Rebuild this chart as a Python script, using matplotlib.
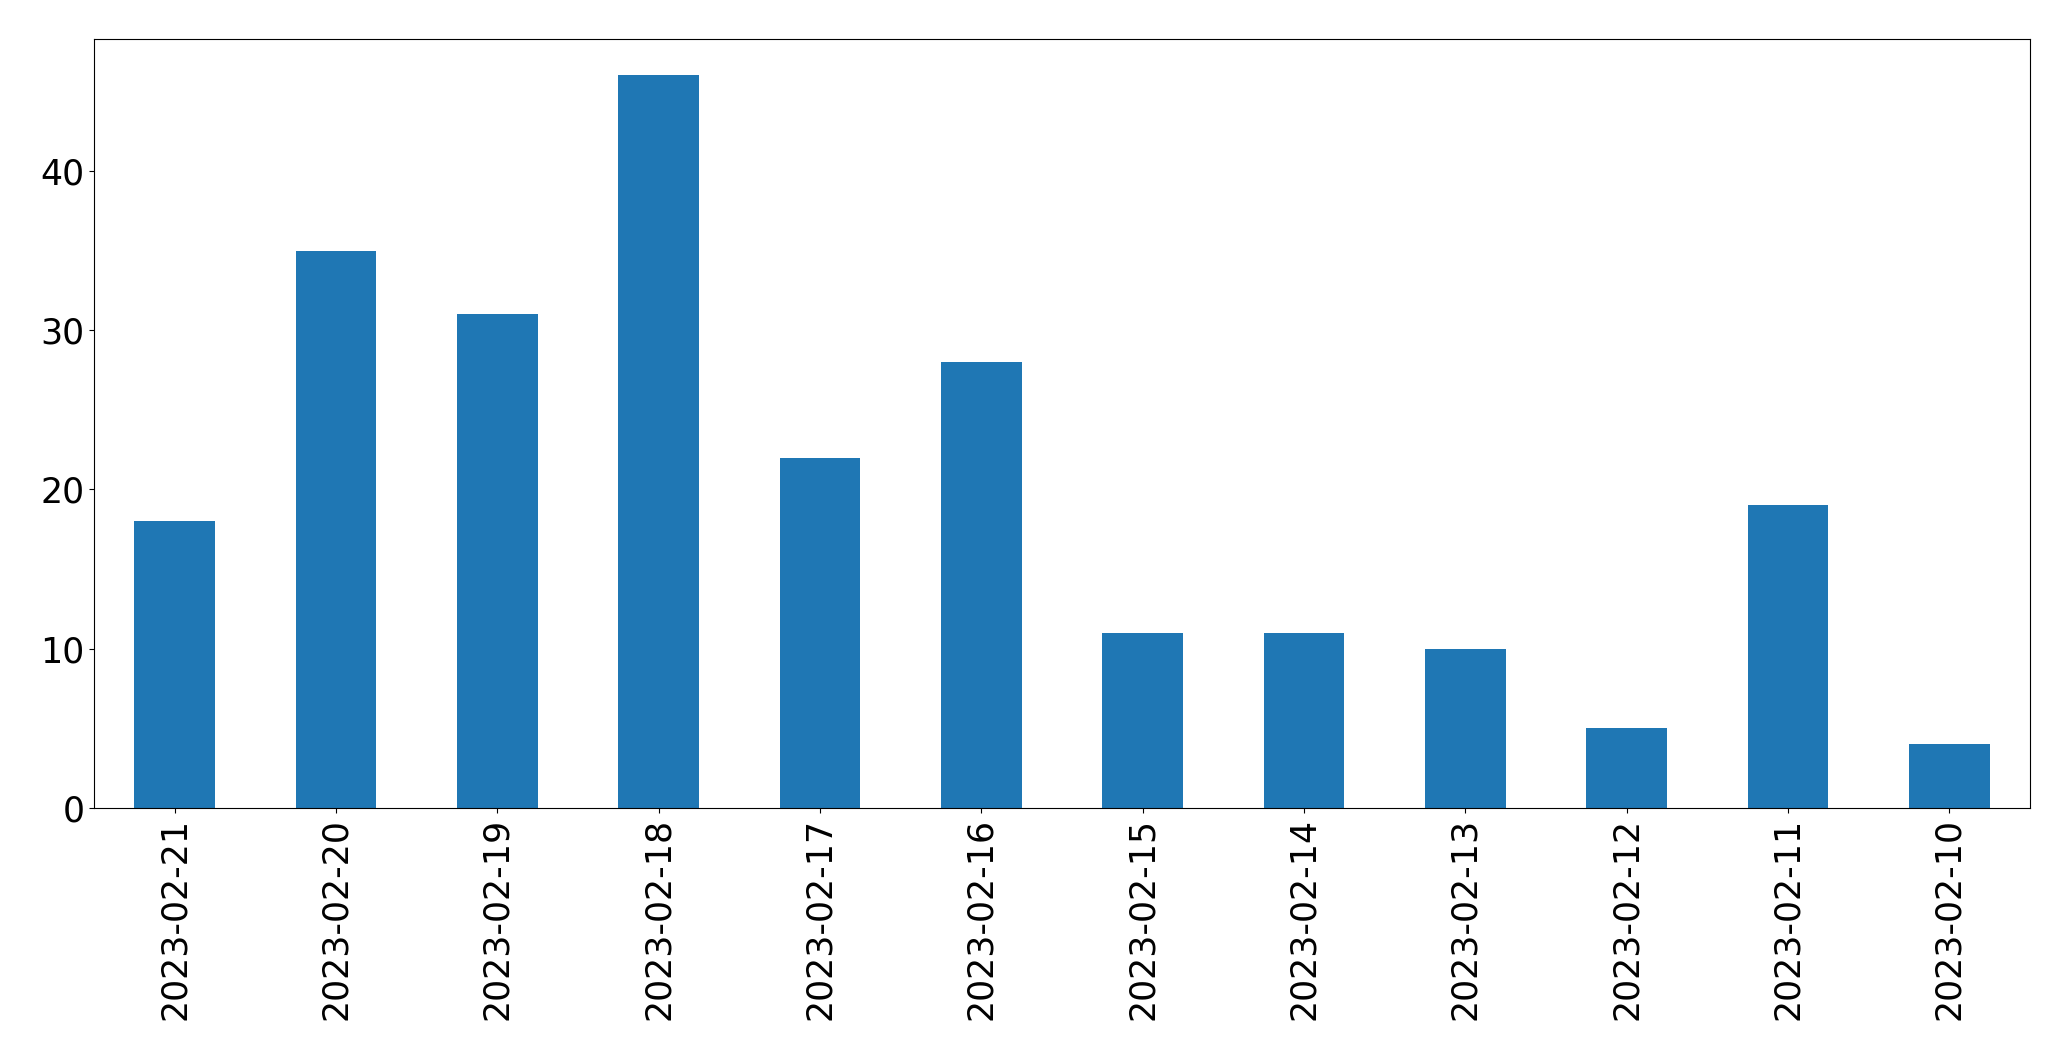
import matplotlib
matplotlib.use("Agg")
import matplotlib.pyplot as plt
import pandas as pd

dates = ["2023-02-21", "2023-02-20", "2023-02-19", "2023-02-18", "2023-02-17",
         "2023-02-16", "2023-02-15", "2023-02-14", "2023-02-13", "2023-02-12",
         "2023-02-11", "2023-02-10"]
counts = [18, 35, 31, 46, 22, 28, 11, 11, 10, 5, 19, 4]

s = pd.Series(counts, index=dates)

fig, ax = plt.subplots(figsize=(20.71, 10.61), dpi=100)
s.plot(kind="bar", ax=ax, color="#1f77b4")
ax.tick_params(labelsize=25)
plt.subplots_adjust(left=0.0454, right=0.9802, top=0.9635, bottom=0.2385)
fig.savefig("out.png", dpi=100)
